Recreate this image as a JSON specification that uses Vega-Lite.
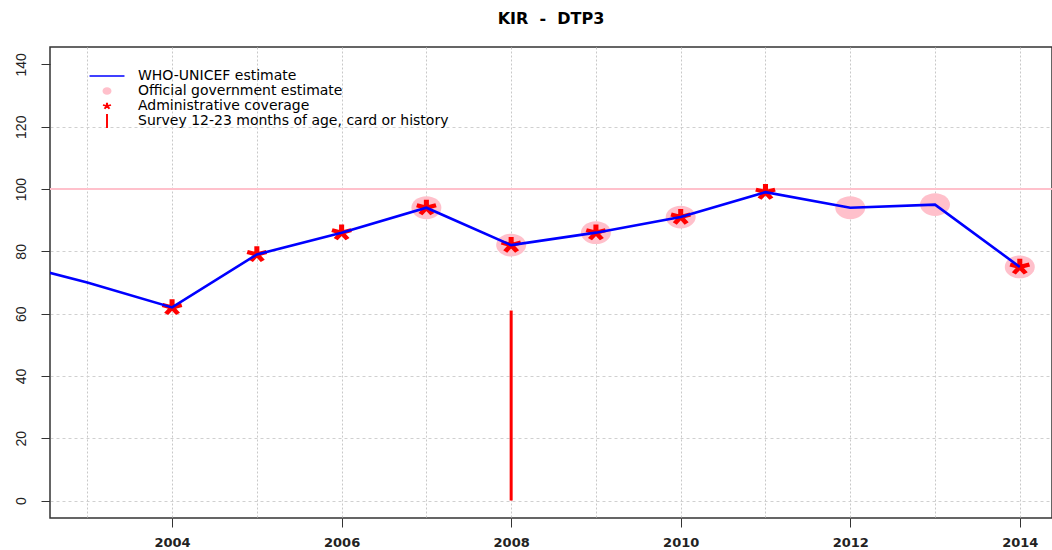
{
  "$schema": "https://vega.github.io/schema/vega-lite/v6.json",
  "width": 1002,
  "height": 471,
  "autosize": "none",
  "padding": {"left": 50, "top": 47, "right": 0, "bottom": 32},
  "background": "white",
  "title": {"text": "KIR \u00a0-\u00a0 DTP3", "font": "DejaVu Sans", "fontSize": 16, "fontWeight": "bold", "anchor": "middle", "offset": 20, "color": "#000000"},
  "config": {
    "view": {"stroke": "#333333", "strokeWidth": 1.5},
    "legend": {
      "orient": "none", "legendX": 49.5, "legendY": 21.5, "padding": 0,
      "symbolSize": 225, "symbolStrokeWidth": 0, "labelOffset": 23.5,
      "labelFont": "DejaVu Sans", "labelFontSize": 14, "labelColor": "#000000",
      "rowPadding": 0, "labelLimit": 600
    }
  },
  "data": {"values": [
    {"year": 2002, "wuenic": 77, "official": null, "admin": null, "survey": null},
    {"year": 2003, "wuenic": 70, "official": null, "admin": null, "survey": null},
    {"year": 2004, "wuenic": 62, "official": null, "admin": 62, "survey": null},
    {"year": 2005, "wuenic": 79, "official": null, "admin": 79, "survey": null},
    {"year": 2006, "wuenic": 86, "official": null, "admin": 86, "survey": null},
    {"year": 2007, "wuenic": 94, "official": 94, "admin": 94, "survey": null},
    {"year": 2008, "wuenic": 82, "official": 82, "admin": 82, "survey": 61},
    {"year": 2009, "wuenic": 86, "official": 86, "admin": 86, "survey": null},
    {"year": 2010, "wuenic": 91, "official": 91, "admin": 91, "survey": null},
    {"year": 2011, "wuenic": 99, "official": null, "admin": 99, "survey": null},
    {"year": 2012, "wuenic": 94, "official": 94, "admin": null, "survey": null},
    {"year": 2013, "wuenic": 95, "official": 95, "admin": null, "survey": null},
    {"year": 2014, "wuenic": 75, "official": 75, "admin": 75, "survey": null}
  ]},
  "layer": [
    {
      "mark": {"type": "rule", "color": "#FFC0CB", "strokeWidth": 1.2},
      "encoding": {
        "y": {"datum": 100, "type": "quantitative",
          "scale": {"domain": [-5.6, 145.6], "nice": false, "zero": false},
          "axis": {
            "values": [0, 10, 20, 30, 40, 50, 60, 70, 80, 90, 100, 110, 120, 130, 140],
            "labelExpr": "datum.value % 20 === 0 ? datum.label : ''",
            "tickOpacity": {"condition": {"test": "datum.value % 20 === 0", "value": 1}, "value": 0},
            "gridOpacity": {"condition": {"test": "datum.value <= 120", "value": 1}, "value": 0},
            "grid": true, "gridColor": "#d0d0d0", "gridDash": [3, 3], "gridWidth": 1,
            "domain": false, "tickSize": 9, "tickColor": "#333333", "tickWidth": 1,
            "labelAngle": 270, "labelAlign": "center", "labelBaseline": "bottom", "labelPadding": 13,
            "labelFont": "Liberation Sans", "labelFontSize": 14, "labelColor": "#222222",
            "title": null, "labelOverlap": false, "labelFlush": false, "labelBound": false
          }
        }
      }
    },
    {
      "transform": [{"filter": "isValid(datum.survey)"}],
      "mark": {"type": "rule", "color": "#FF0000", "strokeWidth": 3},
      "encoding": {
        "x": {"field": "year", "type": "quantitative",
          "scale": {"domain": [2002.56, 2014.38], "nice": false, "zero": false},
          "axis": {
            "values": [2003, 2004, 2005, 2006, 2007, 2008, 2009, 2010, 2011, 2012, 2013, 2014],
            "format": "d",
            "labelExpr": "datum.value % 2 === 0 ? datum.label : ''",
            "tickOpacity": {"condition": {"test": "datum.value % 2 === 0", "value": 1}, "value": 0},
            "grid": true, "gridColor": "#c8c8c8", "gridDash": [2, 2], "gridWidth": 1,
            "domain": false, "tickSize": 9, "tickColor": "#333333", "tickWidth": 1,
            "labelPadding": 9, "labelFont": "DejaVu Sans", "labelFontSize": 13, "labelFontWeight": "bold",
            "labelColor": "#222222", "title": null, "labelOverlap": false, "labelFlush": false
          }
        },
        "y": {"field": "survey", "type": "quantitative", "scale": {"domain": [-5.6, 145.6], "nice": false, "zero": false}},
        "y2": {"datum": 0}
      }
    },
    {
      "mark": {"type": "point", "filled": true, "opacity": 1, "color": "#FFC0CB", "size": 900, "strokeWidth": 0,
        "shape": "M-1,0A1,0.76,0,1,0,1,0A1,0.76,0,1,0,-1,0Z"},
      "encoding": {
        "x": {"field": "year", "type": "quantitative", "scale": {"domain": [2002.56, 2014.38], "nice": false, "zero": false}},
        "y": {"field": "official", "type": "quantitative", "scale": {"domain": [-5.6, 145.6], "nice": false, "zero": false}}
      }
    },
    {
      "mark": {"type": "point", "filled": true, "opacity": 1, "size": 1300, "strokeWidth": 0},
      "encoding": {
        "x": {"field": "year", "type": "quantitative", "scale": {"domain": [2002.56, 2014.38], "nice": false, "zero": false}},
        "y": {"field": "admin", "type": "quantitative", "scale": {"domain": [-5.6, 145.6], "nice": false, "zero": false}},
        "color": {"datum": "Administrative coverage", "type": "nominal",
          "scale": {
            "domain": ["WHO-UNICEF estimate", "Official government estimate", "Administrative coverage", "Survey 12-23 months of age, card or history"],
            "range": ["#0000FF", "#FFC0CB", "#FF0000", "#FF0000"]
          },
          "legend": {"title": null}
        },
        "shape": {"datum": "Administrative coverage", "type": "nominal",
          "scale": {
            "domain": ["WHO-UNICEF estimate", "Official government estimate", "Administrative coverage", "Survey 12-23 months of age, card or history"],
            "range": [
              "M-2.33,-0.09H2.33V0.09H-2.33Z",
              "M-0.6,0A0.6,0.5,0,1,0,0.6,0A0.6,0.5,0,1,0,-0.6,0Z",
              "M-0.14,0.03L0.14,0.03L0.14,-0.45L-0.14,-0.45ZM-0.05,-0.11L0.05,0.11L0.57,-0.03L0.5,-0.25ZM0.11,-0.07L-0.11,0.07L0.22,0.42L0.44,0.29ZM0.11,0.07L-0.11,-0.07L-0.44,0.29L-0.22,0.42ZM-0.05,0.11L0.05,-0.11L-0.5,-0.25L-0.57,-0.03Z",
              "M-0.13,-0.93H0.13V0.93H-0.13Z"
            ]
          },
          "legend": {"title": null}
        }
      }
    },
    {
      "mark": {"type": "line", "color": "#0000FF", "strokeWidth": 2.6, "clip": true},
      "encoding": {
        "x": {"field": "year", "type": "quantitative", "scale": {"domain": [2002.56, 2014.38], "nice": false, "zero": false}},
        "y": {"field": "wuenic", "type": "quantitative", "scale": {"domain": [-5.6, 145.6], "nice": false, "zero": false}}
      }
    }
  ]
}
